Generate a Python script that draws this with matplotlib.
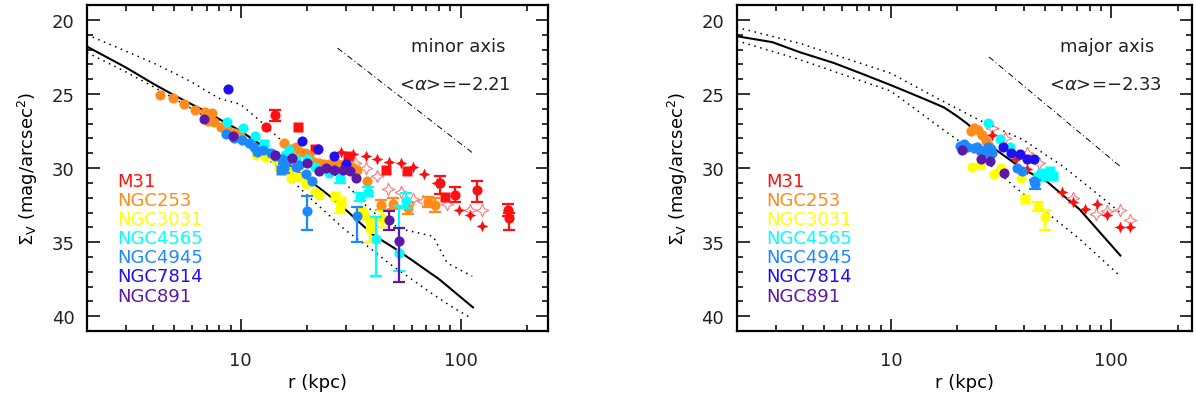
import matplotlib
matplotlib.use('Agg')
import matplotlib.pyplot as plt
from matplotlib.ticker import FixedLocator, NullFormatter

plt.rcParams['font.family'] = ['DejaVu Sans']
plt.rcParams['mathtext.fontset'] = 'dejavusans'

names = ['M31', 'NGC253', 'NGC3031', 'NGC4565', 'NGC4945', 'NGC7814', 'NGC891']
colors = ['#ff1010', '#ff8c1a', '#ffff00', '#00ffff', '#1e88ff', '#2010f0', '#5c18a8']

# ---- minor axis: model (solid) and 1-sigma band (dotted)
minor_model_r = [2, 3, 4, 5, 6, 7, 8, 10, 12, 15, 20, 25, 30, 40, 50, 60, 70, 80, 100, 114]
minor_model_mu = [21.8, 23.2, 24.3, 25.1, 25.7, 26.2, 26.7, 27.5, 28.3, 29.3, 30.7, 31.8, 32.8, 34.5, 35.4, 36.2, 36.9, 37.5, 38.7, 39.4]
minor_hi_r = [2, 3, 4, 5, 6, 7, 8, 10, 12, 15, 17, 22, 29, 37, 45, 57, 75, 87, 113]
minor_hi_mu = [21.0, 22.1, 22.9, 23.6, 24.2, 24.8, 25.3, 25.7, 26.7, 28.0, 28.7, 29.6, 30.8, 32.5, 33.6, 34.2, 34.6, 36.4, 37.3]
minor_lo_r = [2, 3, 4, 6, 8, 10, 12, 15, 17, 21, 30, 38, 48, 60, 73, 90, 111]
minor_lo_mu = [22.2, 23.5, 24.5, 26.0, 27.1, 28.0, 28.9, 30.0, 30.8, 32.1, 34.2, 35.3, 36.5, 37.5, 38.4, 39.3, 40.1]
minor_slope_r = [27.6, 114]
minor_slope_mu = [21.9, 29.0]

# ---- major axis
major_model_r = [2, 2.9, 3.9, 5.5, 7.3, 10, 14, 17.4, 20, 22.2, 25, 28.3, 40, 51, 72, 110]
major_model_mu = [21.1, 21.5, 22.2, 22.9, 23.6, 24.4, 25.3, 25.9, 26.5, 27.0, 27.7, 28.5, 30.1, 30.9, 32.8, 35.9]
major_hi_r = [2, 3.9, 10, 16.8, 25.5, 40, 60.6, 78, 110]
major_hi_mu = [20.5, 21.6, 23.6, 25.4, 26.8, 28.1, 29.9, 31.2, 33.0]
major_lo_r = [2, 3.9, 10, 18, 25.5, 36, 51, 72, 110]
major_lo_mu = [21.4, 22.7, 24.8, 27.6, 29.2, 31.2, 33.0, 34.8, 37.3]
major_slope_r = [27.9, 110]
major_slope_mu = [22.5, 29.9]

# ---- minor axis data (r [kpc], mu)
minor_m31_circ = [(14.3, 26.45), (13.0, 27.2), (80.9, 31.0), (94.8, 31.8), (119, 31.5), (165, 32.8), (167, 33.4)]
minor_m31_sq = [(18.2, 27.2), (21.8, 28.7), (30.7, 29.2), (46, 30.15), (57, 30.2), (85, 31.95)]
minor_m31_star = [(28.7, 28.9), (32.6, 29.05), (37, 29.2), (41.7, 29.4), (47.2, 29.6), (53.6, 29.65),
                  (60.6, 29.95), (68.3, 30.4), (78, 31.0), (98.6, 32.8), (111, 33.15), (125, 33.9)]
minor_m31_open = [(33, 29.65), (37, 30.0), (41.7, 30.55), (47, 31.4), (53.5, 31.6), (60.6, 32.1),
                  (67.3, 32.2), (87, 32.45), (111, 32.8), (125, 32.8)]
minor_ngc253 = [(4.3, 25.1), (4.94, 25.3), (5.55, 25.7), (6.2, 26.05), (6.9, 26.2), (7.4, 26.3), (7.1, 26.8),
                (7.6, 26.9), (8.1, 27.2), (8.8, 27.5), (9.4, 27.6), (9.9, 27.85), (15.7, 28.3), (16.9, 28.7),
                (17.8, 28.6), (18.7, 28.9), (19.6, 29.0), (20.5, 29.1), (21.5, 29.6), (22.7, 29.65), (24, 29.7),
                (25.3, 29.75), (26.7, 29.7), (28, 29.75), (32, 29.9), (34, 30.1), (37.5, 30.9), (43.6, 32.5),
                (49.4, 32.4), (57.7, 32.7), (71, 32.3), (76.8, 32.5)]
minor_ngc3031 = [(11.7, 29.1), (12.9, 29.25), (14.4, 29.4), (14.9, 30.0), (16.6, 30.2), (17.0, 30.7), (18.2, 30.6),
                 (19.8, 31.1), (21.9, 31.6), (22.8, 31.8), (27.0, 31.9), (28.7, 32.25), (28.2, 32.7), (34.8, 32.8),
                 (35.5, 32.8), (36.7, 33.2), (38.7, 33.6), (38.7, 34.1), (43.8, 33.4)]
minor_ngc4565 = [(8.7, 26.9), (10.2, 27.3), (11.6, 27.85), (12.8, 28.35), (15.9, 29.1), (16.6, 28.75), (17.8, 29.4),
                 (20.1, 29.4), (21.9, 29.9), (25.3, 30.3), (28.2, 30.7), (34.8, 31.95), (38, 31.6), (41.3, 34.8),
                 (52.7, 35.75), (56.5, 32.2)]
minor_ngc4945 = [(8.6, 27.7), (9.3, 28.0), (10.1, 28.1), (10.9, 28.3), (11.5, 28.6), (11.9, 28.9), (12.7, 28.8),
                 (13.7, 29.0), (14.4, 29.2), (15.3, 30.1), (15.5, 29.4), (16.3, 29.5), (17.8, 29.9), (18.5, 29.8),
                 (19.8, 30.4), (21.2, 30.9), (15.7, 30.0), (20.1, 32.9), (33.9, 33.2)]
minor_ngc7814 = [(8.8, 24.65), (19.1, 28.2), (22.6, 28.7), (26.7, 29.2), (30.2, 29.7)]
minor_ngc891 = [(6.8, 26.7), (9.2, 27.85), (14.3, 29.1), (17.2, 29.3), (20.1, 29.65), (22.8, 30.2), (24.5, 30.0),
                (26.7, 30.1), (29.1, 30.1), (31.3, 30.2), (33.5, 30.7), (47.4, 33.5), (52.7, 34.9)]

# error bars: (r, mu, err towards bright, err towards faint), index matches names
minor_err = [
    [(14.3, 26.45, 0.4, 0.4), (80.9, 31.0, 0.45, 0.75), (94.8, 31.8, 0.5, 0.5), (119, 31.5, 0.6, 0.8),
     (165, 32.8, 0.4, 0.4), (167, 33.4, 0.4, 0.75)],
    [(43.6, 32.5, 0.35, 0.35), (49.4, 32.4, 0.35, 0.35), (57.7, 32.7, 0.4, 0.4), (71, 32.3, 0.35, 0.35),
     (76.8, 32.5, 0.45, 0.45)],
    [(28.2, 32.7, 0.35, 0.35), (38.7, 34.1, 0.9, 0.9), (43.8, 33.4, 0.5, 0.6)],
    [(28.2, 30.7, 0.3, 0.3), (34.8, 31.95, 0.3, 0.3), (38, 31.6, 0.3, 0.3), (41.3, 34.8, 1.5, 2.5),
     (52.7, 35.75, 3.2, 1.2), (56.5, 32.2, 0.5, 0.5)],
    [(15.7, 30.0, 0.3, 0.3), (20.1, 32.9, 1.0, 1.3), (33.9, 33.2, 0.6, 1.8)],
    [],
    [(47.4, 33.5, 0.6, 0.7), (52.7, 34.9, 0.85, 2.8)],
]

# ---- major axis data
major_m31_star = [(28.9, 27.75), (36.8, 29.4), (41.6, 30.05), (46.3, 30.4), (59.8, 31.6), (67.3, 32.3),
                  (76.3, 32.75), (86.4, 32.4), (95.2, 33.15), (110, 34.0), (122, 34.0)]
major_m31_open = [(28.9, 27.3), (32.8, 27.95), (41.6, 29.0), (46.9, 29.65), (52, 30.3), (67.4, 32.0),
                  (85.6, 33.1), (95.2, 32.9), (110, 32.85), (122, 33.5)]
major_ngc253 = [(23.0, 27.5), (23.8, 27.3), (24.8, 27.4), (25.8, 27.8), (26.9, 28.2), (27.8, 28.5)]
major_ngc3031 = [(23.4, 29.9), (25.3, 29.8), (29.5, 30.4), (31.5, 30.0), (39.1, 30.7), (40.8, 32.1),
                 (46.3, 32.6), (49.8, 33.3)]
major_ngc4565 = [(27.6, 26.95), (31.3, 28.05), (34.6, 28.55), (46.5, 30.6), (48.5, 30.3), (50.5, 30.5),
                 (52.5, 30.2), (54.5, 30.5)]
major_ngc4945 = [(20.7, 28.5), (21.5, 28.4), (22.2, 28.6), (23.8, 28.65), (24.5, 28.6), (25.5, 28.75),
                 (26.9, 28.9), (27.5, 28.6), (28.4, 28.7), (28.9, 29.0), (37.4, 30.0), (39.5, 30.2),
                 (44.4, 30.9), (45.3, 31.1)]
major_ngc7814 = [(32.4, 28.6), (35.2, 29.0), (38.5, 29.05), (41.6, 29.4), (44.7, 29.4)]
major_ngc891 = [(21.1, 28.8), (25.6, 29.4), (28.2, 29.5), (32.6, 30.3)]
major_err = [[], [], [(46.3, 32.6, 0.3, 0.3), (49.8, 33.3, 0.5, 0.9)], [], [(45.3, 31.1, 0.3, 0.3)], [], []]

minor_sq = {1: [], 2: [(27.0, 31.9), (28.7, 32.25)], 3: [(12.8, 28.35)], 4: [(15.3, 30.1)]}
major_sq = {2: [(40.8, 32.1)], 3: [(46.5, 30.6), (48.5, 30.3), (50.5, 30.5), (52.5, 30.2), (54.5, 30.5)]}

k = 0.3
star = [(0, 1), (k, k), (1, 0), (k, -k), (0, -1), (-k, -k), (-1, 0), (-k, k), (0, 1)]


def xy(pts):
    return [p[0] for p in pts], [p[1] for p in pts]


def style_axes(ax, xmax):
    ax.set_xscale('log')
    ax.set_xlim(2, xmax)
    ax.set_ylim(41, 19)
    ax.set_yticks([20, 25, 30, 35, 40])
    ax.yaxis.set_minor_locator(FixedLocator(range(19, 42)))
    ax.set_xticks([10, 100])
    ax.set_xticklabels(['10', '100'])
    ax.xaxis.set_minor_locator(FixedLocator([2, 3, 4, 5, 6, 7, 8, 9, 20, 30, 40, 50, 60, 70, 80, 90, 200]))
    ax.xaxis.set_minor_formatter(NullFormatter())
    ax.tick_params(which='both', direction='in', top=True, right=True, width=1.3, labelsize=13, colors='#222222')
    ax.tick_params(which='major', length=9)
    ax.tick_params(which='minor', length=4.5)
    ax.tick_params(axis='x', pad=14)
    ax.tick_params(axis='y', pad=9)
    for s in ax.spines.values():
        s.set_linewidth(1.6)
    ax.set_xlabel('r (kpc)', fontsize=13, labelpad=3)
    ax.set_ylabel(r'$\Sigma_{\rm V}$ (mag/arcsec$^2$)', fontsize=13, labelpad=8)
    for i, (n, c) in enumerate(zip(names, colors)):
        ax.text(0.065, 0.46 - i * 0.0585, n, color=c, fontsize=13, transform=ax.transAxes, va='center', ha='left')


def draw_panel(ax, model, hi, lo, slope, m31_circ, m31_sq, m31_star, m31_open, groups, errs, squares):
    ax.plot(*model, color='black', lw=1.5, zorder=2)
    ax.plot(*hi, color='black', lw=1.1, ls=(0, (1, 3)), zorder=2)
    ax.plot(*lo, color='black', lw=1.1, ls=(0, (1, 3)), zorder=2)
    ax.plot(*slope, color='black', lw=0.7, ls=(0, (6, 3, 1, 3)), zorder=2)
    z = 3
    for i, c in enumerate(colors):
        for (r, m, eb, ef) in errs[i]:
            ax.errorbar([r], [m], yerr=[[eb], [ef]], fmt='none', ecolor=c, elinewidth=1.6,
                        capsize=4, capthick=1.6, zorder=z)
        if i == 0:
            ax.plot(*xy(m31_open), ls='none', marker=star, ms=9, mfc='none', mec='#ff7878', mew=0.8, zorder=z)
            if m31_circ:
                ax.plot(*xy(m31_circ), ls='none', marker='o', ms=7.3, color=c, mec='none', zorder=z)
            if m31_sq:
                ax.plot(*xy(m31_sq), ls='none', marker='s', ms=6.5, color=c, mec='none', zorder=z)
            ax.plot(*xy(m31_star), ls='none', marker=star, ms=8.5, color=c, mec='none', zorder=z)
        else:
            sq = squares.get(i, [])
            pts = [p for p in groups[i - 1] if p not in sq]
            ax.plot(*xy(pts), ls='none', marker='o', ms=7.3, color=c, mec='none', zorder=z)
            if sq:
                ax.plot(*xy(sq), ls='none', marker='s', ms=6.5, color=c, mec='none', zorder=z)
        z += 1


fig = plt.figure(figsize=(11.96, 4.06), dpi=100)
ax1 = fig.add_axes([0.0727, 0.182, 0.3855, 0.803])
ax2 = fig.add_axes([0.616, 0.182, 0.3805, 0.803])

draw_panel(ax1, (minor_model_r, minor_model_mu), (minor_hi_r, minor_hi_mu), (minor_lo_r, minor_lo_mu),
           (minor_slope_r, minor_slope_mu), minor_m31_circ, minor_m31_sq, minor_m31_star, minor_m31_open,
           [minor_ngc253, minor_ngc3031, minor_ngc4565, minor_ngc4945, minor_ngc7814, minor_ngc891],
           minor_err, minor_sq)
draw_panel(ax2, (major_model_r, major_model_mu), (major_hi_r, major_hi_mu), (major_lo_r, major_lo_mu),
           (major_slope_r, major_slope_mu), [], [], major_m31_star, major_m31_open,
           [major_ngc253, major_ngc3031, major_ngc4565, major_ngc4945, major_ngc7814, major_ngc891],
           major_err, major_sq)

style_axes(ax1, 250)
style_axes(ax2, 232)

ax1.text(0.805, 0.874, 'minor axis', fontsize=13, ha='center', va='center', transform=ax1.transAxes, color='#222222')
ax1.text(0.797, 0.757, '<$\\alpha$>=\u22122.21', fontsize=13, ha='center', va='center', transform=ax1.transAxes, color='#222222')
ax2.text(0.815, 0.874, 'major axis', fontsize=13, ha='center', va='center', transform=ax2.transAxes, color='#222222')
ax2.text(0.811, 0.757, '<$\\alpha$>=\u22122.33', fontsize=13, ha='center', va='center', transform=ax2.transAxes, color='#222222')

fig.savefig('out.png', dpi=100)
